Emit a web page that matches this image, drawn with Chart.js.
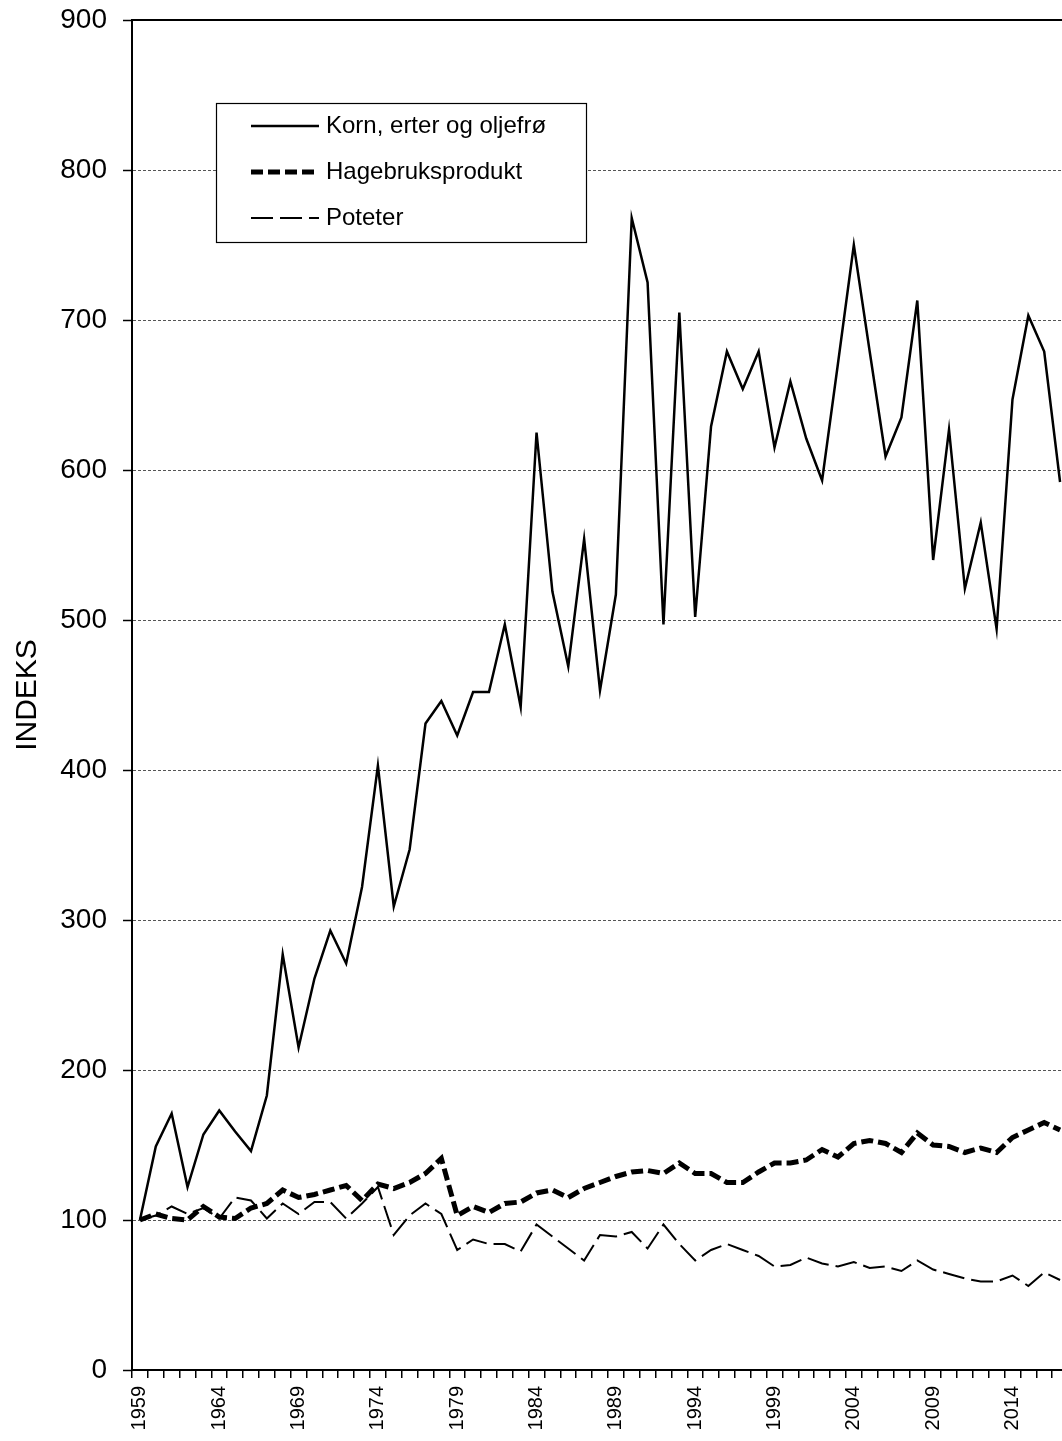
<!DOCTYPE html>
<html>
<head>
<meta charset="utf-8">
<script src="https://cdn.jsdelivr.net/npm/chart.js@4.4.1/dist/chart.umd.min.js"></script>
<style>
  html, body { margin: 0; padding: 0; overflow: hidden; background: #fff; }
  #wrap { width: 1068px; height: 1441px; }
</style>
</head>
<body>
<div id="wrap"><canvas id="indexChart" width="1068" height="1441"></canvas></div>
<script>
    const years = [];
    for (let y = 1959; y <= 2017; y++) years.push(String(y));

    const kornValues = [
      100, 149, 171, 122, 157, 173, 159, 146, 183, 277,
      215, 261, 293, 271, 322, 403, 309, 347, 431, 446,
      423, 452, 452, 497, 442, 625, 519, 469, 554, 453,
      517, 768, 725, 497, 705, 502, 629, 679, 654, 679,
      615, 659, 621, 593, 671, 750, 679, 609, 635, 713,
      540, 627, 521, 565, 494, 647, 703, 679, 592
    ];
    const hageValues = [
      100, 104, 101, 100, 109, 102, 101, 108, 111, 120,
      115, 117, 120, 123, 113, 124, 121, 125, 131, 141,
      103, 109, 105, 111, 112, 118, 120, 115, 121, 125,
      129, 132, 133, 131, 138, 131, 131, 125, 125, 132,
      138, 138, 140, 147, 142, 151, 153, 151, 145, 158,
      150, 149, 145, 148, 145, 155, 160, 165, 160
    ];
    const poteterValues = [
      100, 103, 109, 104, 108, 101, 115, 113, 101, 111,
      104, 112, 112, 101, 111, 122, 90, 103, 111, 104,
      80, 87, 84, 84, 79, 97, 89, 81, 73, 90,
      89, 92, 81, 97, 84, 73, 80, 84, 80, 76,
      69, 70, 75, 71, 69, 72, 68, 69, 66, 73,
      67, 64, 61, 59, 59, 63, 56, 65, 60
    ];
    const yTicks = [0, 100, 200, 300, 400, 500, 600, 700, 800, 900];
    const seriesNames = ['Korn, erter og oljefrø', 'Hagebruksprodukt', 'Poteter'];

    const fontFamily = '"Liberation Sans", Arial, sans-serif';

    // legend box drawn by hand, inside the plot like the original
    const legendBox = {
      id: 'legendBox',
      afterDraw(chart) {
        const ctx = chart.ctx;
        const area = chart.chartArea;
        ctx.save();
        // top frame line
        ctx.strokeStyle = '#000';
        ctx.lineWidth = 2;
        ctx.beginPath();
        ctx.moveTo(area.left, area.top);
        ctx.lineTo(area.right, area.top);
        ctx.stroke();

        ctx.fillStyle = '#fff';
        ctx.fillRect(216, 103, 371, 140);
        ctx.lineWidth = 1.2;
        ctx.strokeRect(216.5, 103.5, 370, 139);

        const rows = [126, 172, 218];
        chart.data.datasets.forEach((ds, i) => {
          ctx.strokeStyle = '#000';
          ctx.lineWidth = ds.borderWidth;
          ctx.setLineDash(ds.borderDash || []);
          ctx.beginPath();
          ctx.moveTo(251, rows[i]);
          ctx.lineTo(319, rows[i]);
          ctx.stroke();
          ctx.setLineDash([]);
          ctx.fillStyle = '#000';
          ctx.font = '24px ' + fontFamily;
          ctx.textBaseline = 'middle';
          ctx.fillText(ds.label, 326, rows[i]);
        });
        ctx.restore();
      }
    };

    const indexChart = new Chart(document.getElementById('indexChart'), {
      type: 'line',
      data: {
        labels: years,
        datasets: [
          {
            label: seriesNames[0],
            data: kornValues,
            borderColor: '#000',
            borderWidth: 2.5,
            pointRadius: 0,
            tension: 0
          },
          {
            label: seriesNames[1],
            data: hageValues,
            borderColor: '#000',
            borderWidth: 5,
            borderDash: [12, 5],
            pointRadius: 0,
            tension: 0
          },
          {
            label: seriesNames[2],
            data: poteterValues,
            borderColor: '#000',
            borderWidth: 2,
            borderDash: [22, 7],
            pointRadius: 0,
            tension: 0
          }
        ]
      },
      options: {
        responsive: false,
        animation: false,
        layout: { padding: { top: 20, right: 0, left: 0, bottom: 0 } },
        plugins: {
          legend: { display: false },
          tooltip: { enabled: false }
        },
        scales: {
          x: {
            type: 'category',
            offset: true,
            grid: {
              offset: true,
              drawOnChartArea: false,
              drawTicks: true,
              tickLength: 8,
              color: '#000',
              lineWidth: 1.5
            },
            border: { color: '#000', width: 2 },
            ticks: {
              autoSkip: false,
              maxRotation: 90,
              minRotation: 90,
              padding: 8,
              color: '#000',
              font: { family: fontFamily, size: 20 },
              callback: function (value, index) {
                return (index % 5 === 0) ? years[index] : '';
              }
            },
            afterFit: function (scale) {
              scale.height = 71;
              scale.paddingLeft = 0;
              scale.paddingRight = 0;
            }
          },
          y: {
            min: 0,
            max: 900,
            afterBuildTicks: function (scale) {
              scale.ticks = yTicks.map(v => ({ value: v }));
            },
            grid: {
              color: '#555',
              lineWidth: 1,
              tickColor: '#000',
              tickWidth: 1.5,
              tickLength: 9
            },
            border: { color: '#000', width: 2, dash: [3, 2] },
            ticks: {
              padding: 16,
              color: '#000',
              font: { family: fontFamily, size: 28 }
            },
            title: {
              display: true,
              text: 'INDEKS',
              color: '#000',
              font: { family: fontFamily, size: 30 },
              padding: { top: 10, bottom: 0 }
            },
            afterFit: function (scale) {
              scale.width = 132;
              scale.paddingTop = 0;
              scale.paddingBottom = 0;
            }
          }
        }
      },
      plugins: [legendBox]
    });
</script>
</body>
</html>
